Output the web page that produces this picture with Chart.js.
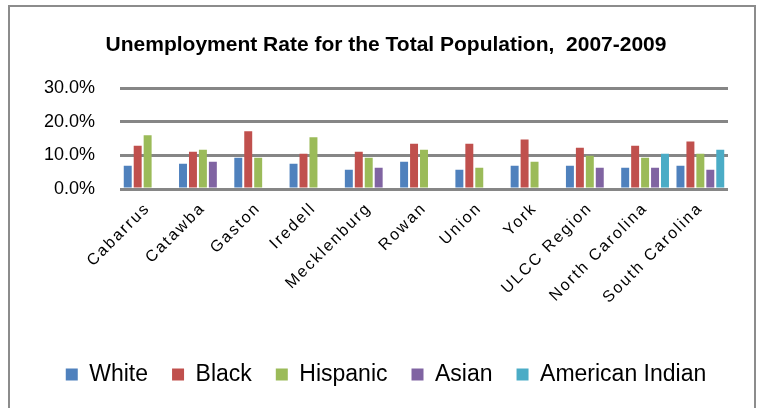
<!DOCTYPE html>
<html>
<head>
<meta charset="utf-8">
<script src="https://cdn.jsdelivr.net/npm/chart.js@4"></script>
<style>
  html, body { margin: 0; padding: 0; background: #fff; overflow: hidden; }
  #wrap { position: absolute; left: 0; top: 0; width: 757px; height: 408px; }
  #frame { position: absolute; left: 8px; top: 5px; width: 744px; height: 420px;
           border: 2px solid #8c8c8c; pointer-events: none; }
</style>
</head>
<body>
<div id="wrap"><canvas id="myChart" width="757" height="408"></canvas></div>
<div id="frame"></div>
<script>
// Nhãn trục X
const regions = ["Cabarrus", "Catawba", "Gaston", "Iredell", "Mecklenburg", "Rowan",
  "Union", "York", "ULCC Region", "North Carolina", "South Carolina"];

// Tỷ lệ thất nghiệp (%) theo nhóm
const white    = [6.9, 7.5, 9.3, 7.5, 5.7, 8.1, 5.7, 6.9, 6.9, 6.3, 6.9];
const black    = [12.9, 11.1, 17.2, 10.5, 11.1, 13.5, 13.5, 14.7, 12.3, 12.9, 14.1];
const hispanic = [16.0, 11.7, 9.3, 15.4, 9.3, 11.7, 6.3, 8.1, 9.9, 9.3, 10.5];
const asian    = [null, 8.1, null, null, 6.3, null, null, null, 6.3, 6.3, 5.7];
const amIndian = [null, null, null, null, null, null, null, null, null, 10.5, 11.7];

const yTicks = [0, 10, 20, 30];

const font = "'Liberation Sans', Arial, sans-serif";

// nhãn trục X có khoảng cách chữ rộng như bản gốc
const spacedLabels = {
  id: "spacedLabels",
  beforeDraw(chart) {
    const sx = chart.scales.x;
    if (!sx || sx._spaced) return;
    const orig = sx.drawLabels;
    sx.drawLabels = function (area) {
      const c = this.ctx;
      c.save();
      c.letterSpacing = "2px";
      orig.call(this, area);
      c.restore();
    };
    sx._spaced = true;
  },
};

const data = {
  labels: regions,
  datasets: [
    { label: "White", data: white, backgroundColor: "#4F81BD" },
    { label: "Black", data: black, backgroundColor: "#C0504D" },
    { label: "Hispanic", data: hispanic, backgroundColor: "#9BBB59" },
    { label: "Asian", data: asian, backgroundColor: "#8064A2" },
    { label: "American Indian", data: amIndian, backgroundColor: "#4BACC6" },
  ],
};

const config = {
  type: "bar",
  data: data,
  plugins: [spacedLabels],
  options: {
    responsive: false,
    animation: false,
    categoryPercentage: 0.9,
    barPercentage: 0.8,
    layout: { padding: { left: 15, right: 0, top: 0, bottom: 12 } },
    plugins: {
      title: {
        display: true,
        text: "Unemployment Rate for the Total Population,  2007-2009",
        color: "#000",
        font: { family: font, size: 21, weight: "bold" },
        padding: { top: 33, bottom: 30 },
      },
      legend: {
        position: "bottom",
        labels: {
          color: "#000",
          font: { family: font, size: 23 },
          boxWidth: 12,
          boxHeight: 12,
          padding: 24,
        },
      },
      tooltip: { enabled: false },
    },
    scales: {
      x: {
        grid: { display: false },
        border: { display: false },
        ticks: {
          color: "#000",
          font: { family: font, size: 16 },
          minRotation: 45,
          maxRotation: 45,
          padding: 2,
        },
        afterFit: (scale) => { scale.height = 150; },
      },
      y: {
        min: 0,
        max: 30,
        afterBuildTicks: (scale) => { scale.ticks = yTicks.map(v => ({ value: v })); },
        grid: { color: "#868686", lineWidth: 3, drawTicks: false },
        border: { display: false },
        ticks: {
          color: "#000",
          font: { family: font, size: 18 },
          padding: 25,
          callback: (v) => v.toFixed(1) + "%",
        },
        afterFit: (scale) => { scale.width = 105; },
      },
      // trục phụ trống để giữ lề phải
      yRight: {
        position: "right",
        grid: { display: false },
        border: { display: false },
        ticks: { display: false },
        afterFit: (scale) => { scale.width = 29; },
      },
    },
  },
};

const ctx = document.getElementById("myChart").getContext("2d");
new Chart(ctx, config);
</script>
</body>
</html>
